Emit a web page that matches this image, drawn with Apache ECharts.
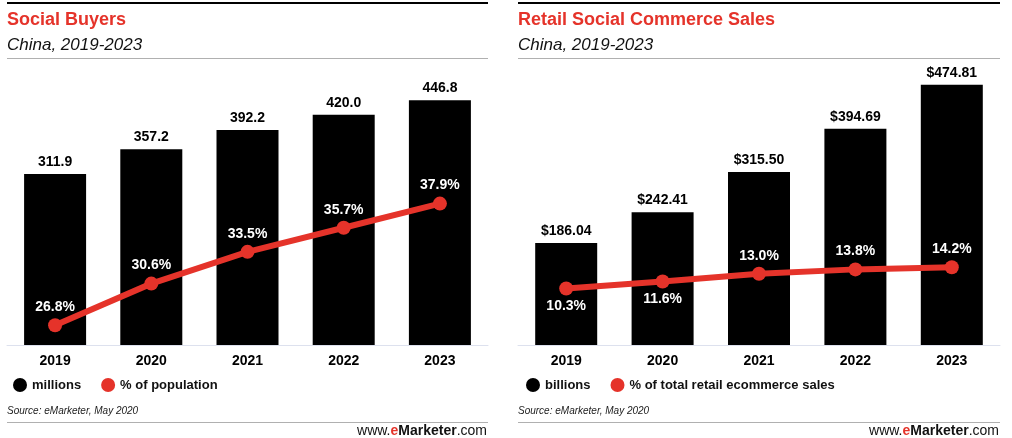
<!DOCTYPE html>
<html><head><meta charset="utf-8">
<script src="https://cdn.jsdelivr.net/npm/echarts@6/dist/echarts.min.js"></script>
<style>html,body{margin:0;padding:0;background:#fff}#c{width:1012px;height:438px}</style>
</head><body><div id="c"></div>
<script>
const years = ['2019','2020','2021','2022','2023'];
const socialBuyers = [311.9, 357.2, 392.2, 420.0, 446.8];
const pctPopulation = [26.8, 30.6, 33.5, 35.7, 37.9];
const retailSales = [186.04, 242.41, 315.50, 394.69, 474.81];
const pctRetail = [10.3, 11.6, 13.0, 13.8, 14.2];

const RED = '#e5332a';
const FONT = '"Liberation Sans", Arial, sans-serif';
const chart = echarts.init(document.getElementById('c'));

function xAxis(gi) {
  return { type:'category', gridIndex:gi, data:years,
    axisLine:{lineStyle:{color:'#dde1ee', width:1}}, axisTick:{show:false},
    axisLabel:{color:'#000', fontWeight:'bold', fontSize:14, fontFamily:FONT, margin:9} };
}
function yAxis(gi, min, max) {
  return { type:'value', gridIndex:gi, min:min, max:max, show:false, splitLine:{show:false} };
}
function barSeries(name, data, gi, fmt) {
  return { type:'bar', name:name, xAxisIndex:gi, yAxisIndex:gi*2, data:data, barWidth:62,
    itemStyle:{color:'#000'},
    label:{show:true, position:'top', distance:5, color:'#000', fontWeight:'bold', fontSize:14, fontFamily:FONT, formatter:fmt} };
}
function lineSeries(name, data, gi, posFn) {
  return { type:'line', name:name, xAxisIndex:gi, yAxisIndex:gi*2+1,
    data:data.map((v,i)=>({value:v, label:{position:posFn(i)}})),
    symbol:'circle', symbolSize:14, lineStyle:{color:RED, width:6}, itemStyle:{color:RED},
    z:5,
    label:{show:true, distance:4, color:'#fff', fontWeight:'bold', fontSize:14, fontFamily:FONT,
      formatter:p=>p.value.toFixed(1)+'%'} };
}
function titles(x, title, rightEdge) {
  return [
    {left:x, top:11, padding:0, text:title, textStyle:{color:RED, fontSize:18, fontWeight:'bold', fontFamily:FONT}},
    {left:x, top:37, padding:0, text:'China, 2019-2023', textStyle:{color:'#111', fontSize:17, fontStyle:'italic', fontWeight:'normal', fontFamily:FONT}},
    {left:x, top:406, padding:0, text:'Source: eMarketer, May 2020', textStyle:{color:'#222', fontSize:10, fontStyle:'italic', fontWeight:'normal', fontFamily:FONT}},
    {right:rightEdge, top:424, padding:0, text:'www.{e|e}{b|Marketer}.com',
      textStyle:{color:'#111', fontSize:14, fontWeight:'normal', fontFamily:FONT,
        rich:{e:{color:RED, fontWeight:'bold', fontSize:14, fontFamily:FONT}, b:{color:'#111', fontWeight:'bold', fontSize:14, fontFamily:FONT}}}}
  ];
}
function rules(x1, x2) {
  return [
    {type:'rect', shape:{x:x1, y:2, width:x2-x1, height:2}, style:{fill:'#000'}},
    {type:'rect', shape:{x:x1, y:58, width:x2-x1, height:1}, style:{fill:'#b0b0b0'}},
    {type:'rect', shape:{x:x1, y:422, width:x2-x1, height:1}, style:{fill:'#b0b0b0'}}
  ];
}
const legendText = {color:'#111', fontWeight:'bold', fontSize:13, fontFamily:FONT};

chart.setOption({
  animation:false,
  backgroundColor:'#fff',
  title: titles(7,'Social Buyers',1012-487).concat(titles(518,'Retail Social Commerce Sales',13)),
  graphic: rules(7,488).concat(rules(518,1000)),
  grid:[
    {left:7, right:1012-488, top:71, bottom:438-345},
    {left:518, right:12, top:71, bottom:438-345}
  ],
  legend:[
    {left:8, top:373, icon:'circle', itemWidth:14, itemHeight:14, itemGap:20, textStyle:legendText,
      data:[{name:'millions', itemStyle:{color:'#000'}}, {name:'% of population', itemStyle:{color:RED}}]},
    {left:521, top:373, icon:'circle', itemWidth:14, itemHeight:14, itemGap:20, textStyle:legendText,
      data:[{name:'billions', itemStyle:{color:'#000'}}, {name:'% of total retail ecommerce sales', itemStyle:{color:RED}}]}
  ],
  xAxis:[xAxis(0), xAxis(1)],
  yAxis:[yAxis(0,0,500), yAxis(0,25,50), yAxis(1,0,500), yAxis(1,0,50)],
  series:[
    barSeries('millions', socialBuyers, 0, p=>p.value.toFixed(1)),
    lineSeries('% of population', pctPopulation, 0, i=>'top'),
    barSeries('billions', retailSales, 1, p=>'$'+p.value.toFixed(2)),
    lineSeries('% of total retail ecommerce sales', pctRetail, 1, i=>(i<2?'bottom':'top'))
  ]
});
</script></body></html>
